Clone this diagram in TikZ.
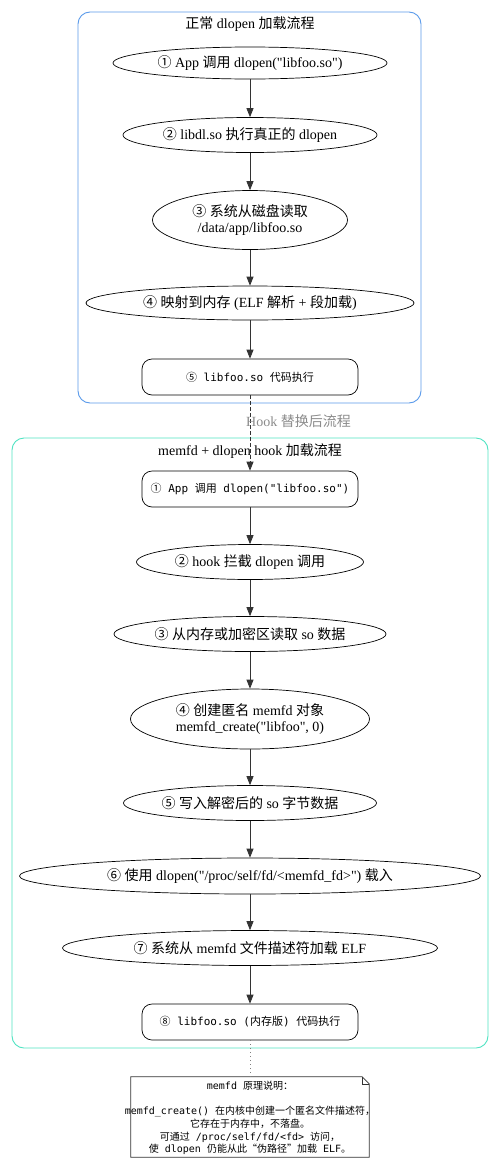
\documentclass[tikz,border=0pt]{standalone}
\usepackage{fontspec}
\setmainfont{Liberation Serif}[Ligatures=TeXOff]
\setmonofont{DejaVu Sans Mono}
\newfontfamily\cjkfont{Noto Sans CJK SC}
\newcommand\zh[1]{{\cjkfont #1}}
\usetikzlibrary{shapes.geometric,arrows.meta}
\definecolor{clblue}{HTML}{5B9BEB}
\definecolor{clcyan}{HTML}{50E3C2}
\definecolor{edgec}{HTML}{333333}
\begin{document}
\begin{tikzpicture}[x=1pt,y=-1pt,
  ell/.style={draw,line width=0.7pt,ellipse,inner sep=0pt,font=\fontsize{14}{16}\selectfont,align=center},
  rbox/.style={draw,line width=0.7pt,rounded corners=10pt,inner sep=0pt,minimum width=216pt,minimum height=36pt,font=\ttfamily\fontsize{11}{13}\selectfont},
  flow/.style={draw=edgec,line width=0.8pt,-{Triangle[length=9pt,width=7pt]}},
  cluster/.style={rounded corners=12pt,line width=0.9pt},
  ctitle/.style={font=\fontsize{14}{16}\selectfont,inner sep=0pt}
]
\useasboundingbox[fill=white] (0,0) rectangle (500,1162);

% cluster 1
\draw[cluster,clblue] (78,12) rectangle (421,403);
\node[ctitle] (t1) at (250,24) {\zh{正常} dlopen \zh{加载流程}};
\node[ell,minimum width=274pt,minimum height=32pt] (a1) at (250,63) {\zh{①} App \zh{调用} dlopen("libfoo.so")};
\node[ell,minimum width=254pt,minimum height=35pt] (a2) at (250,135) {\zh{②} libdl.so \zh{执行真正的} dlopen};
\node[ell,minimum width=195pt,minimum height=59pt] (a3) at (250,220) {\zh{③} \zh{系统从磁盘读取}\\/data/app/libfoo.so};
\node[ell,minimum width=328pt,minimum height=34pt] (a4) at (250,303) {\zh{④} \zh{映射到内存} (ELF \zh{解析} + \zh{段加载})};
\node[rbox] (a5) at (250,377) {\zh{⑤} libfoo.so \zh{代码执行}};
\draw[flow] (a1) -- (a2);
\draw[flow] (a2) -- (a3);
\draw[flow] (a3) -- (a4);
\draw[flow] (a4) -- (a5);

% cluster 2
\draw[cluster,clcyan] (12,438) rectangle (488,1048);
\node[ctitle] (t2) at (250,451) {memfd + dlopen hook \zh{加载流程}};
\node[rbox] (b1) at (250,489) {\zh{①} App \zh{调用} dlopen("libfoo.so")};
\node[ell,minimum width=227pt,minimum height=35pt] (b2) at (250,562) {\zh{②} hook \zh{拦截} dlopen \zh{调用}};
\node[ell,minimum width=272pt,minimum height=35pt] (b3) at (250,634) {\zh{③} \zh{从内存或加密区读取} so \zh{数据}};
\node[ell,minimum width=239pt,minimum height=60pt] (b4) at (250,719) {\zh{④} \zh{创建匿名} memfd \zh{对象}\\memfd\_create("libfoo", 0)};
\node[ell,minimum width=253pt,minimum height=35pt] (b5) at (250,803) {\zh{⑤} \zh{写入解密后的} so \zh{字节数据}};
\node[ell,minimum width=461pt,minimum height=36pt] (b6) at (250,876) {\zh{⑥} \zh{使用} dlopen("/proc/self/fd/<memfd\_fd>") \zh{载入}};
\node[ell,minimum width=375pt,minimum height=35pt] (b7) at (250,948) {\zh{⑦} \zh{系统从} memfd \zh{文件描述符加载} ELF};
\node[rbox] (b8) at (250,1022) {\zh{⑧} libfoo.so (\zh{内存版}) \zh{代码执行}};
\draw[flow] (b1) -- (b2);
\draw[flow] (b2) -- (b3);
\draw[flow] (b3) -- (b4);
\draw[flow] (b4) -- (b5);
\draw[flow] (b5) -- (b6);
\draw[flow] (b6) -- (b7);
\draw[flow] (b7) -- (b8);

% hook transition
\draw[flow,dash pattern=on 4pt off 2pt] (a5) -- (b1);
\node[anchor=west,text=gray!90,font=\fontsize{14}{16}\selectfont,inner sep=0pt] (hl) at (246,421) {Hook \zh{替换后流程}};

% note
\node[minimum width=238pt,minimum height=80pt,inner sep=0pt] (note) at (250,1117) {};
\draw[line width=0.8pt,edgec] (note.north west) -- ([xshift=-7pt]note.north east) -- ([yshift=-7pt]note.north east) -- (note.south east) -- (note.south west) -- cycle;
\draw[line width=0.6pt,edgec] ([xshift=-7pt]note.north east) -- ([xshift=-7pt,yshift=-7pt]note.north east) -- ([yshift=-7pt]note.north east);
\node[align=center,font=\ttfamily\fontsize{10}{12.6}\selectfont,inner sep=0pt,anchor=north] (notetext) at (250,1081) {memfd \zh{原理说明：}\\[0pt]\mbox{}\\memfd\_create() \zh{在内核中创建一个匿名文件描述符，}\\\zh{它存在于内存中，不落盘。}\\\zh{可通过} /proc/self/fd/<fd> \zh{访问，}\\\zh{使} dlopen \zh{仍能从此“伪路径”加载} ELF\zh{。}};
\draw[gray,line width=0.8pt,dash pattern=on 1pt off 3pt] (b8) -- (note);
\end{tikzpicture}
\end{document}
